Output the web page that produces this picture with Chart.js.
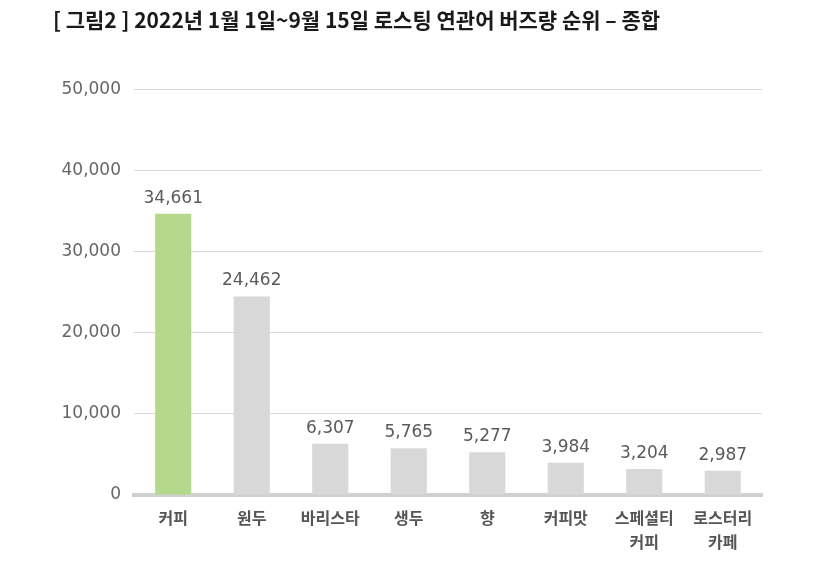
<!DOCTYPE html>
<html><head><meta charset="utf-8">
<script src="https://cdn.jsdelivr.net/npm/chart.js@4/dist/chart.umd.min.js"></script>
<style>
html,body{margin:0;padding:0;background:#fff;}
#wrap{position:relative;width:831px;height:562px;}
</style></head>
<body><div id="wrap"><canvas id="c" width="831" height="562"></canvas></div>
<script>
const titleText = '[ 그림2 ] 2022년 1월 1일~9월 15일 로스팅 연관어 버즈량 순위 – 종합';
const categories = ['커피', '원두', '바리스타', '생두', '향', '커피맛', ['스페셜티', '커피'], ['로스터리', '카페']];
const buzzValues = [34661, 24462, 6307, 5765, 5277, 3984, 3204, 2987];
const barColors = ['#b5d98b', '#d9d8d8', '#d9d8d8', '#d9d8d8', '#d9d8d8', '#d9d8d8', '#d9d8d8', '#d9d8d8'];
const yTicks = [0, 10000, 20000, 30000, 40000, 50000];

const FONT = '"Noto Sans CJK KR", "Noto Sans", sans-serif';
const NUMFONT = '"DejaVu Sans", sans-serif';

const valueLabels = {
  id: 'valueLabels',
  afterDatasetsDraw(chart) {
    const ctx = chart.ctx;
    const meta = chart.getDatasetMeta(0);
    ctx.save();
    ctx.font = '17px ' + NUMFONT;
    ctx.fillStyle = '#5a5a5a';
    ctx.textAlign = 'center';
    ctx.textBaseline = 'bottom';
    meta.data.forEach((bar, i) => {
      ctx.fillText(buzzValues[i].toLocaleString('en-US'), bar.x, bar.y - 7);
    });
    ctx.restore();
  }
};

new Chart(document.getElementById('c'), {
  type: 'bar',
  data: {
    labels: categories,
    datasets: [{
      data: buzzValues,
      backgroundColor: barColors,
      borderWidth: 0,
      barPercentage: 0.46,
      categoryPercentage: 1
    }]
  },
  options: {
    responsive: false,
    animation: false,
    devicePixelRatio: 1,
    layout: { padding: { left: 53, right: 69, top: 0, bottom: 0 } },
    plugins: {
      legend: { display: false },
      tooltip: { enabled: false },
      title: {
        display: true,
        text: titleText,
        align: 'start',
        color: '#1a1a1a',
        font: { family: FONT, size: 21, weight: 'bold' },
        padding: { top: 7, bottom: 57 }
      }
    },
    scales: {
      x: {
        afterFit(scale) { scale.height = 67; },
        grid: { display: false, drawTicks: false },
        border: { display: true, color: '#d0d0d0', width: 4 },
        ticks: {
          color: '#555555',
          font: { family: FONT, size: 16, weight: 'bold', lineHeight: 1.5 },
          padding: 11,
          maxRotation: 0,
          autoSkip: false
        }
      },
      y: {
        min: 0,
        max: 50000,
        afterBuildTicks(scale) { scale.ticks = yTicks.map(v => ({ value: v })); },
        afterFit(scale) { scale.width = 81; },
        grid: { color: '#d9d9d9', lineWidth: 1, drawTicks: false },
        border: { display: false },
        ticks: {
          color: '#666666',
          font: { family: NUMFONT, size: 17 },
          padding: 13,
          callback: v => Number(v).toLocaleString('en-US')
        }
      }
    }
  },
  plugins: [valueLabels]
});
</script></body></html>
